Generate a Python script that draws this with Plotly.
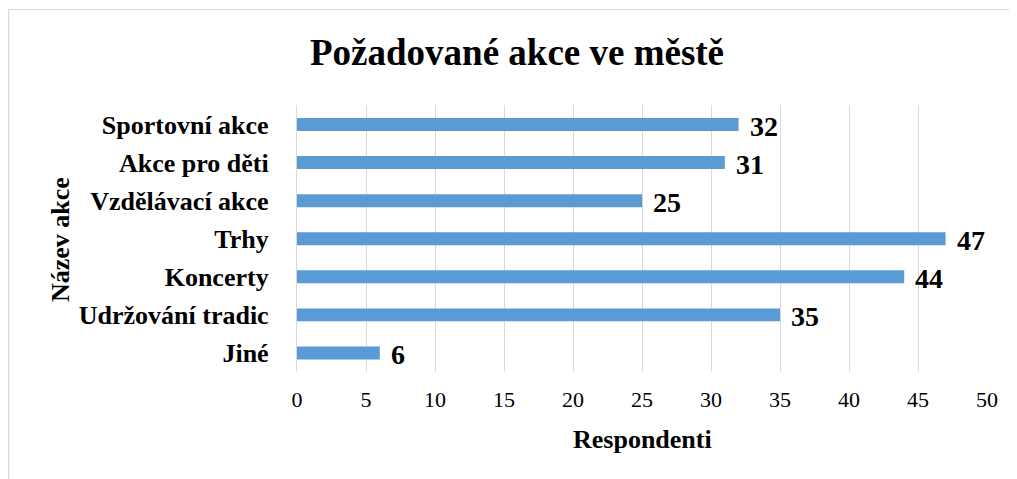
import plotly.graph_objects as go

categories = ["Sportovní akce", "Akce pro děti", "Vzdělávací akce", "Trhy",
              "Koncerty", "Udržování tradic", "Jiné"]
values = [32, 31, 25, 47, 44, 35, 6]
x_ticks = [0, 5, 10, 15, 20, 25, 30, 35, 40, 45, 50]

title_text = "Požadované akce ve městě"
x_title = "Respondenti"
y_title = "Název akce"

FONT = "Liberation Serif, Times New Roman, serif"
OFF = 8  # page body margin
W, H = 1017 - OFF, 479 - OFF
L, T = 297 - OFF, 105 - OFF
R = W - (987 - OFF)
B = H - (372 - OFF)
pw, ph = W - L - R, H - T - B


def px(xr):
    return (xr - OFF - L) / pw


def py(yr):
    return (H - B - (yr - OFF)) / ph


fig = go.Figure()
fig.add_trace(go.Bar(
    y=categories, x=values, orientation="h",
    marker=dict(color="#5B9BD5", line=dict(width=0)),
    width=0.34, hoverinfo="x+y",
))

for c, v in zip(categories, values):
    fig.add_annotation(x=v, y=c, text=f"<b>{v}</b>", showarrow=False,
                       xanchor="left", yanchor="middle", xshift=9, yshift=-2,
                       font=dict(family=FONT, size=28, color="#000000"))

fig.add_annotation(xref="paper", yref="paper",
                   x=px(60), y=py(240),
                   text=f"<b>{y_title}</b>", textangle=-90, showarrow=False,
                   xanchor="center", yanchor="middle",
                   font=dict(family=FONT, size=26, color="#000000"))

fig.add_annotation(xref="paper", yref="paper",
                   x=0.5, y=py(439),
                   text=f"<b>{x_title}</b>", showarrow=False,
                   xanchor="center", yanchor="middle",
                   font=dict(family=FONT, size=26, color="#000000"))

fig.add_shape(type="rect", xref="paper", yref="paper",
              x0=px(8.6), x1=px(1040),
              y0=py(500), y1=py(9.5),
              line=dict(color="#d9d9d9", width=1.2), fillcolor="rgba(0,0,0,0)",
              layer="below")

fig.update_layout(
    width=W, height=H,
    margin=dict(l=L, r=R, t=T, b=B),
    paper_bgcolor="white", plot_bgcolor="white",
    showlegend=False,
    title=dict(text=f"<b>{title_text}</b>", x=(517 - OFF) / W, xanchor="center",
               y=1 - (52 - OFF) / H, yanchor="middle", yref="container",
               font=dict(family=FONT, size=37, color="#000000")),
    xaxis=dict(range=[0, 50], tickvals=x_ticks, showgrid=True,
               gridcolor="#d9d9d9", gridwidth=1.3, zeroline=False,
               showline=False, ticks="", ticklabelstandoff=12,
               tickfont=dict(family=FONT, size=22, color="#000000")),
    yaxis=dict(autorange="reversed", showgrid=False, zeroline=False,
               showline=True, linecolor="#d9d9d9", linewidth=1.3,
               ticks="", ticklabelstandoff=22,
               tickfont=dict(family=FONT, size=26, color="#000000")),
)
fig.update_yaxes(tickprefix="<b>", ticksuffix="</b>")

fig.write_html("out.html")
